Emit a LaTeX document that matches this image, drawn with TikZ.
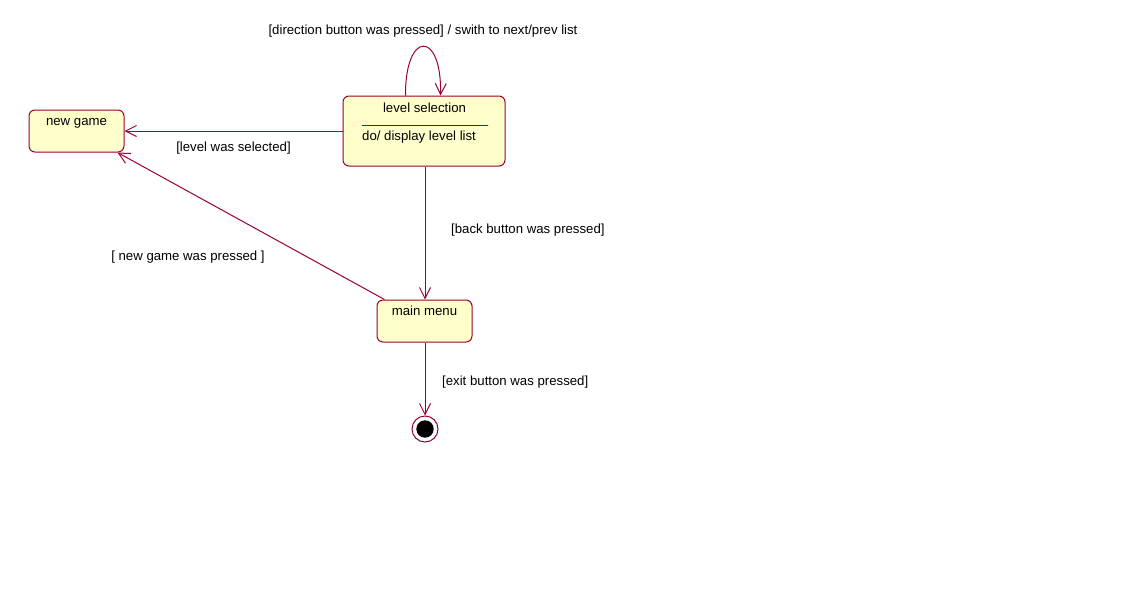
\documentclass[tikz,border=0pt]{standalone}
\usepackage{fontspec}
\setmainfont{Liberation Sans}
\usetikzlibrary{arrows.meta,calc}
\definecolor{umlline}{RGB}{153,0,51}
\definecolor{umlfill}{RGB}{255,255,204}
\tikzset{
  state/.style={draw=umlline, fill=umlfill, rounded corners=6pt, line width=1pt, inner sep=0pt},
  txt/.style={inner sep=0pt, font=\fontsize{13.2}{15}\selectfont},
  trans/.style={draw=umlline, line width=1pt, -{Straight Barb[length=11pt,width=11pt,line width=1pt]}}
}
\begin{document}
\begin{tikzpicture}[x=1pt,y=-1pt]
\useasboundingbox (0,0) rectangle (1124,600);
\fill[white] (0,0) rectangle (1124,600);
% states
\node[state, minimum width=162pt, minimum height=70pt] (ls) at (424,131) {};
\node[state, minimum width=95pt, minimum height=42pt] (ng) at (76.5,131) {};
\node[state, minimum width=95pt, minimum height=42pt] (mm) at (424.5,321) {};
% state texts
\node[txt, anchor=base] (lst) at (424.5,112) {level selection};
\node[txt, anchor=base west] (lsdo) at (362,140.5) {do/ display level list};
\coordinate (sepL) at (362,125.3);
\coordinate (sepR) at (488,125.3);
\draw[umlline, line width=1pt] (sepL) -- (sepR);
\node[txt, anchor=base] (ngt) at (76.5,125.5) {new game};
\node[txt, anchor=base] (mmt) at (424.5,315.5) {main menu};
% final state
\node[circle, draw=umlline, fill=white, line width=1pt, minimum size=26pt, inner sep=0pt] (fin) at (425,429) {};
\fill[black] (fin.center) circle (8.7pt);
% transitions
\draw[trans] ($(ls.north west)+(63,0)$) .. controls (405,30) and (442,30) .. ($(ls.north west)+(98,0)$);
\draw[trans] (ls.west |- 0,131) -- (ng.east |- 0,131);
\draw[trans] (ls.south -| 425,0) -- (mm.north -| 425,0);
\draw[trans] ($(mm.north west)+(8,0)$) -- ($(ng.south east)+(-7,0)$);
\draw[trans] (mm.south -| 425,0) -- (fin.north);
% labels
\node[txt] (l1) at (423,31.5) {[direction button was pressed] / swith to next/prev list};
\node[txt] (l2) at (233.5,148.5) {[level was selected]};
\node[txt, anchor=west] (l3) at (451,230.5) {[back button was pressed]};
\node[txt] (l4) at (188,257.5) {[ new game was pressed ]};
\node[txt, anchor=west] (l5) at (442,382.5) {[exit button was pressed]};
\end{tikzpicture}
\end{document}
